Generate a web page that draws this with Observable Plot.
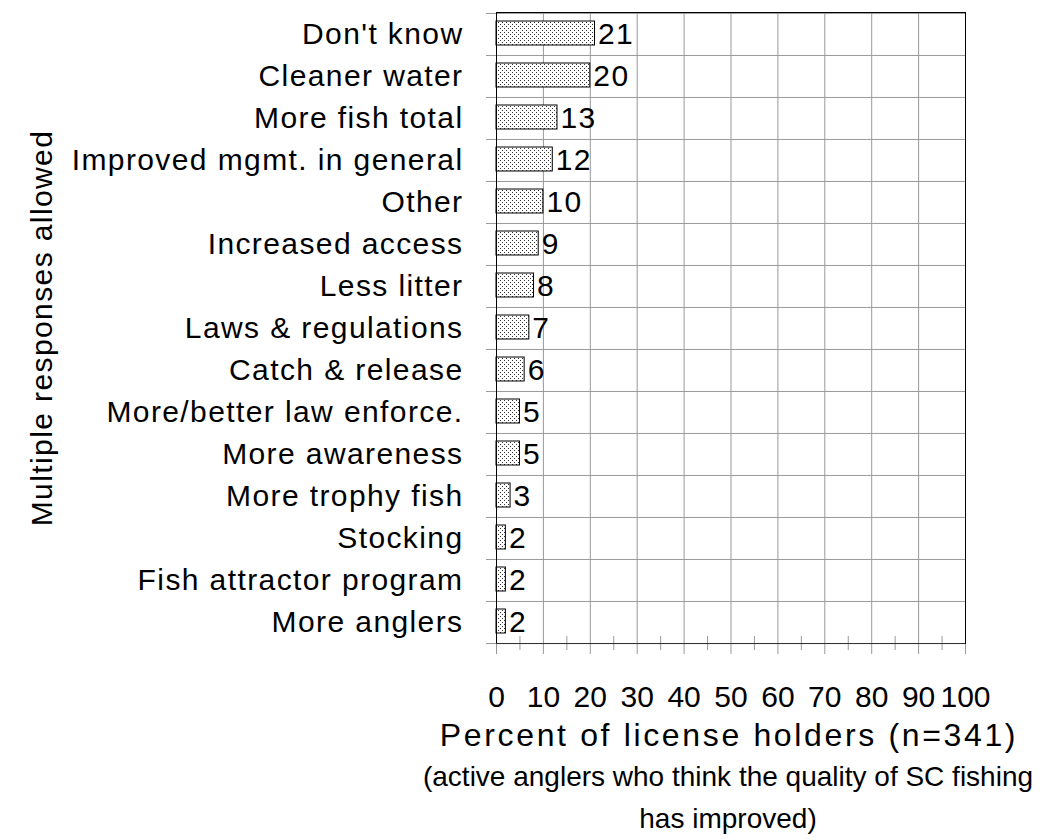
<!DOCTYPE html>
<html>
<head>
<meta charset="utf-8">
<script src="https://cdn.jsdelivr.net/npm/d3@7"></script>
<script src="https://cdn.jsdelivr.net/npm/@observablehq/plot@0.6"></script>
<style>
  html, body { margin: 0; padding: 0; background: #fff; }
  #wrap { position: relative; width: 1042px; height: 840px; font-family: "Liberation Sans", Arial, sans-serif; color: #000; }
  #wrap svg text { letter-spacing: 1.4px; }
  #wrap svg g[aria-label="x-axis tick label"] text { letter-spacing: 0; }
  .cap { position: absolute; text-align: center; line-height: 1; white-space: nowrap; }
</style>
</head>
<body>
<div id="wrap"></div>
<script>
const categories = ["Don't know", "Cleaner water", "More fish total", "Improved mgmt. in general", "Other", "Increased access", "Less litter", "Laws & regulations", "Catch & release", "More/better law enforce.", "More awareness", "More trophy fish", "Stocking", "Fish attractor program", "More anglers"];
const values = [21, 20, 13, 12, 10, 9, 8, 7, 6, 5, 5, 3, 2, 2, 2];
const majorTicks = [0, 10, 20, 30, 40, 50, 60, 70, 80, 90, 100];
const minorTicks = [5, 15, 25, 35, 45, 55, 65, 75, 85, 95];
const gridTicks = [10, 20, 30, 40, 50, 60, 70, 80, 90];
const xTitle = "Percent of license holders (n=341)";
const yTitle = "Multiple responses allowed";
const subtitle1 = "(active anglers who think the quality of SC fishing";
const subtitle2 = "has improved)";

const data = categories.map((c, i) => ({category: c, value: values[i]}));

const W = 1042, H = 712;
const mt = 12, mb = 69, ml = 496, mr = 77;
const step = (H - mt - mb) / categories.length;
const lastCat = categories[categories.length - 1];

const chart = Plot.plot({
  width: W,
  height: H,
  marginTop: mt,
  marginBottom: mb,
  marginLeft: ml,
  marginRight: mr,
  style: {fontFamily: '"Liberation Sans", Arial, sans-serif', fontSize: "30px", background: "#fff", color: "#000"},
  x: {domain: [0, 100], label: null},
  y: {domain: categories, padding: 0, label: null},
  marks: [
    Plot.gridX(gridTicks, {stroke: "#999", strokeOpacity: 1}),
    Plot.ruleY(categories, {y: d => d, dy: -step / 2, insetLeft: -10, stroke: "#999"}),
    Plot.ruleY([lastCat], {y: d => d, dy: step / 2, insetLeft: -10, stroke: "#999"}),
    Plot.axisX(minorTicks, {tickSize: 14, dy: -7, tickFormat: () => "", stroke: "#999", label: null}),
    Plot.axisX(majorTicks, {tickSize: 11, tickPadding: 31, fontSize: 30, stroke: "#999", label: null}),
    Plot.axisY({tickSize: 0, tickPadding: 33, fontSize: 30, label: null}),
    Plot.barX(data, {x: "value", y: "category", insetTop: 8, insetBottom: 10, fill: "url(#dots)", stroke: "#000", strokeWidth: 1}),
    Plot.text(data, {x: "value", y: "category", text: d => String(d.value), dx: 3, textAnchor: "start", fontSize: 30, fill: "#000"}),
    Plot.frame({stroke: "#000"}),
    Plot.ruleY([lastCat], {y: d => d, dy: step / 2, stroke: "#333"}),
    Plot.text([yTitle], {text: d => d, frameAnchor: "left", textAnchor: "middle", lineAnchor: "middle", rotate: -90, dx: -454, fontSize: 30, fill: "#000"})
  ]
});

// dotted fill pattern for the bars
const defs = d3.select(chart).insert("defs", ":first-child");
const pat = defs.append("pattern").attr("id", "dots").attr("patternUnits", "userSpaceOnUse").attr("width", 4).attr("height", 4);
pat.append("rect").attr("width", 4).attr("height", 4).attr("fill", "#fff");
pat.append("rect").attr("x", 0).attr("y", 0).attr("width", 1).attr("height", 1).attr("fill", "#333");
pat.append("rect").attr("x", 2).attr("y", 2).attr("width", 1).attr("height", 1).attr("fill", "#333");

const wrap = document.getElementById("wrap");
wrap.appendChild(chart);

function addCap(text, cx, top, size, spacing) {
  const d = document.createElement("div");
  d.className = "cap";
  d.textContent = text;
  d.style.left = (cx - 400) + "px";
  d.style.width = "800px";
  d.style.top = top + "px";
  d.style.fontSize = size + "px";
  d.style.letterSpacing = spacing + "px";
  wrap.appendChild(d);
}
addCap(xTitle, 729, 719, 32, 2.65);
addCap(subtitle1, 728, 763, 28, 0);
addCap(subtitle2, 728, 805, 28, 0);
</script>
</body>
</html>
